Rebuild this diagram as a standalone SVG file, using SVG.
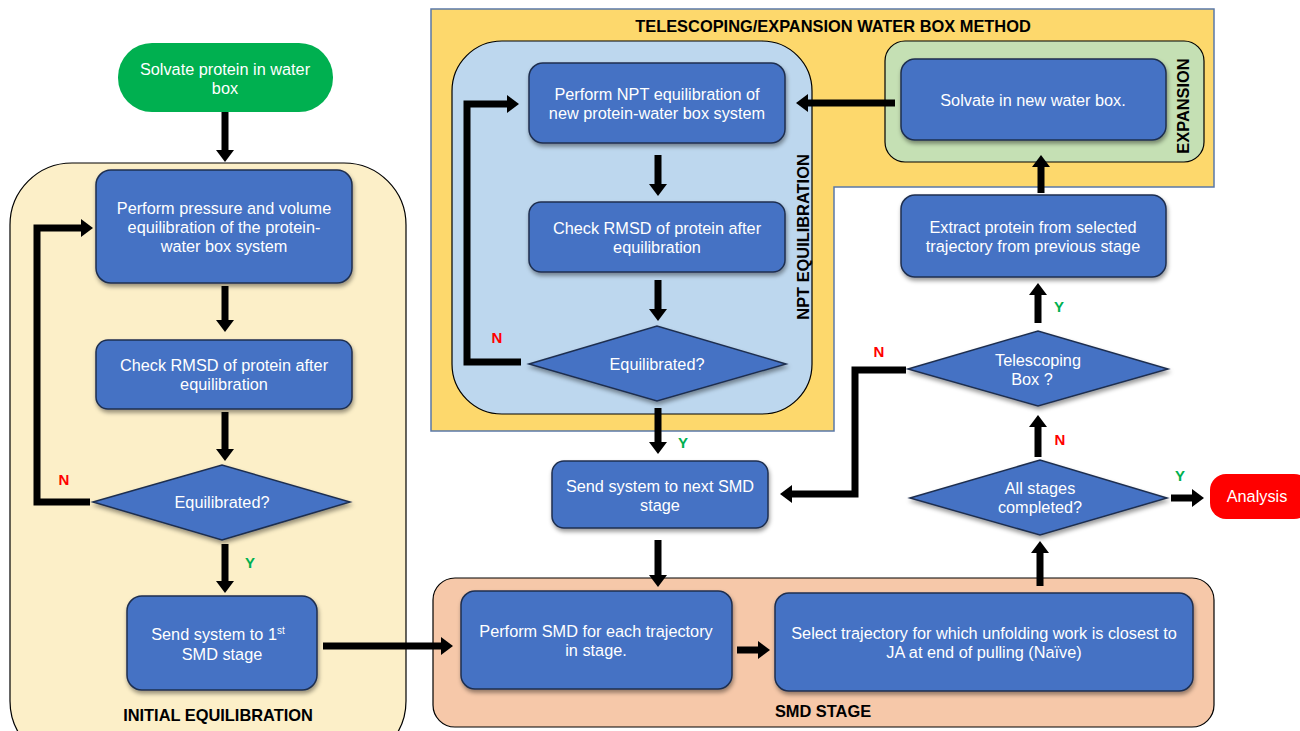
<svg xmlns="http://www.w3.org/2000/svg" width="1300" height="731" viewBox="0 0 1300 731">
<style>
.box{fill:#4472C4;stroke:#1f2f4f;stroke-width:1.5;filter:url(#sh)}
.t{font-family:"Liberation Sans",Arial,sans-serif;font-size:16.3px;fill:#fff;text-anchor:middle}
.lb{font-family:"Liberation Sans",Arial,sans-serif;font-size:16.4px;font-weight:bold;fill:#000;text-anchor:middle}
.n{font-family:"Liberation Sans",Arial,sans-serif;font-size:15px;font-weight:bold;fill:#ff0000;text-anchor:middle}
.y{font-family:"Liberation Sans",Arial,sans-serif;font-size:15px;font-weight:bold;fill:#00b050;text-anchor:middle}
.c{fill:none;stroke:#000;stroke-width:7;marker-end:url(#ah)}
</style>
<defs>
<filter id="sh" x="-10%" y="-10%" width="120%" height="130%"><feDropShadow dx="1" dy="3" stdDeviation="2" flood-color="#000" flood-opacity="0.4"/></filter>
<marker id="ah" markerUnits="userSpaceOnUse" markerWidth="12" markerHeight="18" refX="2" refY="9" orient="auto"><path d="M0,0 L12,9 L0,18 Z" fill="#000"/></marker>
</defs>
<rect width="1300" height="731" fill="#fff"/>
<g id="containers">
<rect id="initial-eq" x="10" y="163" width="396" height="600" rx="62" fill="#FCEFC8" stroke="#000" stroke-width="1.2"/>
<path id="telescoping" d="M431,9 H1214 V187 H834 V431 H431 Z" fill="#FDD86C" stroke="#5A78A8" stroke-width="1.5"/>
<rect id="npt" x="452" y="41" width="360" height="373" rx="50" fill="#BDD7EE" stroke="#000" stroke-width="1.2"/>
<rect id="expansion" x="885" y="41" width="319" height="121" rx="20" fill="#C5E0B4" stroke="#000" stroke-width="1.2"/>
<rect id="smd" x="433" y="578" width="781" height="149" rx="22" fill="#F6C8A9" stroke="#000" stroke-width="1.2"/>
<text class="lb" x="218" y="721">INITIAL EQUILIBRATION</text>
<text class="lb" x="833" y="32">TELESCOPING/EXPANSION WATER BOX METHOD</text>
<text class="lb" transform="translate(809,237) rotate(-90)">NPT EQUILIBRATION</text>
<text class="lb" transform="translate(1189,106) rotate(-90)">EXPANSION</text>
<text class="lb" x="823" y="717">SMD STAGE</text>
</g>
<g id="connectors">
<path class="c" d="M225,112 V152"/>
<path class="c" d="M225,286 V322"/>
<path class="c" d="M225,412 V451"/>
<path class="c" d="M90,502 H37 V228 H83"/>
<path class="c" d="M225,544 V583"/>
<path class="c" d="M323,646 H443"/>
<path class="c" d="M658,155 V186"/>
<path class="c" d="M658,280 V311"/>
<path class="c" d="M521,362 H467 V104 H509"/>
<path class="c" d="M658,408 V444"/>
<path class="c" d="M895,103 H806"/>
<path class="c" d="M1041,193 V165"/>
<path class="c" d="M1038,323 V293"/>
<path class="c" d="M906,370 H855 V494 H790"/>
<path class="c" d="M1038,457 V425"/>
<path class="c" d="M1171,498 H1194"/>
<path class="c" d="M658,540 V577"/>
<path class="c" d="M1040,586 V551"/>
<path class="c" d="M737,650 H760"/>
<text class="n" x="64" y="485">N</text>
<text class="y" x="250" y="568">Y</text>
<text class="n" x="497" y="343">N</text>
<text class="y" x="683" y="448">Y</text>
<text class="y" x="1059" y="312">Y</text>
<text class="n" x="879" y="357">N</text>
<text class="n" x="1060" y="445">N</text>
<text class="y" x="1180" y="481">Y</text>
</g>
<g id="start">
<rect x="118" y="43" width="215" height="69" rx="34" fill="#00B050"/>
<text class="t" x="225" y="75">Solvate protein in water</text>
<text class="t" x="225" y="94">box</text>
</g>
<g id="pv-eq">
<rect class="box" x="96" y="170" width="256" height="113" rx="15"/>
<text class="t" x="224" y="214">Perform pressure and volume</text>
<text class="t" x="224" y="233">equilibration of the protein-</text>
<text class="t" x="224" y="252">water box system</text>
</g>
<g id="rmsd1">
<rect class="box" x="96" y="340" width="256" height="69" rx="12"/>
<text class="t" x="224" y="371">Check RMSD of protein after</text>
<text class="t" x="224" y="390">equilibration</text>
</g>
<g id="eq1">
<polygon class="box" points="93,502 222,465 350,502 222,540"/>
<text class="t" x="222" y="508">Equilibrated?</text>
</g>
<g id="send1">
<rect class="box" x="127" y="596" width="190" height="94" rx="15"/>
<text class="t" x="218" y="640">Send system to 1<tspan font-size="10" dy="-6">st</tspan></text>
<text class="t" x="222" y="660">SMD stage</text>
</g>
<g id="npt-eq">
<rect class="box" x="529" y="63" width="256" height="80" rx="14"/>
<text class="t" x="657" y="100">Perform NPT equilibration of</text>
<text class="t" x="657" y="119">new protein-water box system</text>
</g>
<g id="rmsd2">
<rect class="box" x="529" y="202" width="256" height="70" rx="12"/>
<text class="t" x="657" y="234">Check RMSD of protein after</text>
<text class="t" x="657" y="253">equilibration</text>
</g>
<g id="eq2">
<polygon class="box" points="529,364 657,326 786,364 657,401"/>
<text class="t" x="657" y="370">Equilibrated?</text>
</g>
<g id="solvate-new">
<rect class="box" x="901" y="59" width="265" height="81" rx="14"/>
<text class="t" x="1033" y="106">Solvate in new water box.</text>
</g>
<g id="extract">
<rect class="box" x="901" y="195" width="265" height="82" rx="14"/>
<text class="t" x="1033" y="233">Extract protein from selected</text>
<text class="t" x="1033" y="252">trajectory from previous stage</text>
</g>
<g id="telescoping-box">
<polygon class="box" points="908,369 1038,331 1168,369 1038,406"/>
<text class="t" x="1038" y="366">Telescoping</text>
<text class="t" x="1032" y="385">Box ?</text>
</g>
<g id="all-stages">
<polygon class="box" points="910,498 1040,460 1167,498 1040,535"/>
<text class="t" x="1040" y="494">All stages</text>
<text class="t" x="1040" y="513">completed?</text>
</g>
<g id="analysis">
<rect x="1210" y="474" width="100" height="45" rx="16" fill="#FF0000"/>
<text class="t" x="1257" y="502">Analysis</text>
</g>
<g id="send-next">
<rect class="box" x="552" y="461" width="216" height="67" rx="12"/>
<text class="t" x="660" y="492">Send system to next SMD</text>
<text class="t" x="660" y="511">stage</text>
</g>
<g id="perform-smd">
<rect class="box" x="461" y="591" width="271" height="98" rx="14"/>
<text class="t" x="596" y="637">Perform SMD for each trajectory</text>
<text class="t" x="596" y="656">in stage.</text>
</g>
<g id="select">
<rect class="box" x="775" y="593" width="418" height="98" rx="14"/>
<text class="t" x="984" y="639">Select trajectory for which unfolding work is closest to</text>
<text class="t" x="984" y="658">JA at end of pulling (Naïve)</text>
</g>
</svg>
